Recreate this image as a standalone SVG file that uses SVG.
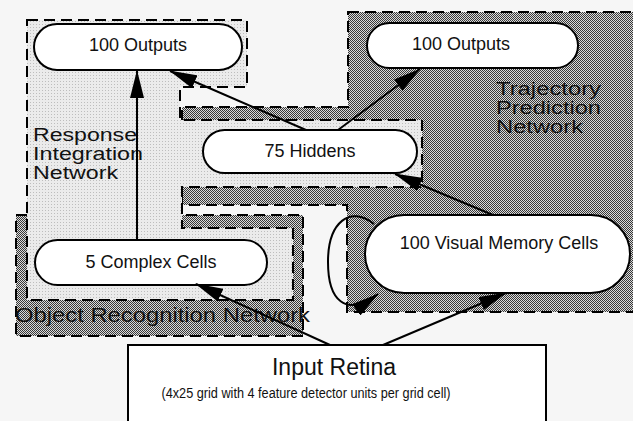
<svg xmlns="http://www.w3.org/2000/svg" width="633" height="421" viewBox="0 0 633 421">
<defs>
<pattern id="light" width="3" height="3" patternUnits="userSpaceOnUse"><rect width="3" height="3" fill="#ebebeb"/><rect width="1" height="1" fill="#bdbdbd"/></pattern>
<pattern id="dark" width="2" height="2" patternUnits="userSpaceOnUse"><rect width="2" height="2" fill="#dadada"/><rect width="1" height="1" fill="#383838"/><rect x="1" y="1" width="1" height="1" fill="#383838"/></pattern>
<marker id="ah" markerUnits="userSpaceOnUse" markerWidth="28" markerHeight="14" refX="27" refY="7" orient="auto"><path d="M0,0 L28,7 L0,14 Z" fill="#000"/></marker>
<style>
.net{stroke:#000;stroke-width:2;stroke-dasharray:11 6}
.node{fill:#fff;stroke:#000;stroke-width:2}
.t{font-family:"Liberation Sans",Arial,sans-serif;font-size:18px;fill:#111;text-anchor:middle}
.lab{font-family:"Liberation Sans",Arial,sans-serif;font-size:18px;fill:#111}
.big{font-size:23px}
.small{font-size:14px}
.orn{font-size:21px}
.edge{fill:none;stroke:#000;stroke-width:2;marker-end:url(#ah)}
</style>
</defs>
<rect width="633" height="421" fill="#f6f6f6"/>
<g id="trajectory-network">
<path class="net" d="M348,12 H640 V312 H347 V205 H182 V107 H348 Z" fill="url(#dark)"/>
<text class="lab" x="496" y="95" fill="#2a2a2a" textLength="105" lengthAdjust="spacingAndGlyphs">Trajectory</text>
<text class="lab" x="496" y="114" fill="#2a2a2a" textLength="105" lengthAdjust="spacingAndGlyphs">Prediction</text>
<text class="lab" x="496" y="133" fill="#2a2a2a" textLength="87" lengthAdjust="spacingAndGlyphs">Network</text>
</g>
<g id="object-network">
<rect class="net" x="16" y="215" width="287" height="121" fill="url(#dark)"/>
</g>
<g id="response-network">
<path class="net" d="M27,20 H247 V87 H180 V120 H422 V187 H182 V228 H293 V300 H27 Z" fill="url(#light)"/>
<text class="lab" x="33" y="141" textLength="104" lengthAdjust="spacingAndGlyphs">Response</text>
<text class="lab" x="33" y="160" textLength="110" lengthAdjust="spacingAndGlyphs">Integration</text>
<text class="lab" x="33" y="179" textLength="85" lengthAdjust="spacingAndGlyphs">Network</text>
</g>
<text class="lab orn" x="15" y="322" textLength="295" lengthAdjust="spacingAndGlyphs" fill="#333">Object Recognition Network</text>
<g id="out-left"><rect class="node" x="34" y="24" width="208" height="46" rx="23"/><text class="t" x="138" y="51">100 Outputs</text></g>
<g id="out-right"><rect class="node" x="367" y="23" width="211" height="45" rx="22.5"/><text class="t" x="461" y="50">100 Outputs</text></g>
<g id="hiddens"><rect class="node" x="203" y="130" width="214" height="43" rx="21.5"/><text class="t" x="310" y="157">75 Hiddens</text></g>
<g id="complex"><rect class="node" x="35" y="240" width="232" height="45" rx="22.5"/><text class="t" x="151" y="268">5 Complex Cells</text></g>
<g id="memory"><rect class="node" x="365" y="215" width="265" height="78" rx="39"/><text class="t" x="499" y="249">100 Visual Memory Cells</text></g>
<g id="retina"><rect class="node" x="128" y="345" width="418" height="90"/><text class="t big" x="334" y="375">Input Retina</text><text class="t small" x="306" y="398" textLength="289" lengthAdjust="spacingAndGlyphs">(4x25 grid with 4 feature detector units per grid cell)</text></g>
<g id="connectors">
<path class="edge" d="M137,240 V71"/>
<path class="edge" d="M306,130 L170,71"/>
<path class="edge" d="M338,130 L420,69"/>
<path class="edge" d="M493,215 L395,174"/>
<path class="edge" d="M330,345 L196,284"/>
<path class="edge" d="M383,345 L506,293"/>
<path class="edge" d="M374,224 C350,205 328,222 328,262 C328,300 345,318 378,294"/>
</g>
</svg>
